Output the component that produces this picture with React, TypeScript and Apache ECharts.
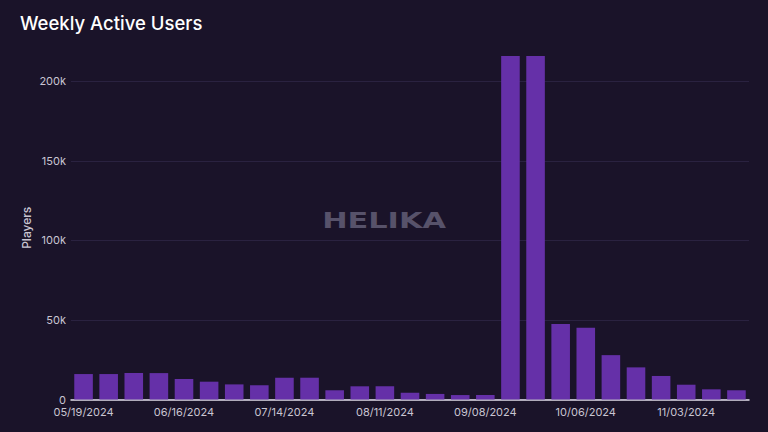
import React, { useEffect, useRef } from "react";
import * as echarts from "echarts";

const weeks = [
  "05/19/2024", "05/26/2024", "06/02/2024", "06/09/2024", "06/16/2024", "06/23/2024", "06/30/2024",
  "07/07/2024", "07/14/2024", "07/21/2024", "07/28/2024", "08/04/2024", "08/11/2024", "08/18/2024",
  "08/25/2024", "09/01/2024", "09/08/2024", "09/15/2024", "09/22/2024", "09/29/2024", "10/06/2024",
  "10/13/2024", "10/20/2024", "10/27/2024", "11/03/2024", "11/10/2024", "11/17/2024",
];

const players = [
  16000, 16000, 16600, 16600, 12900, 11200, 9500, 8900, 13700, 13700, 5800, 8300, 8300, 4200,
  3500, 2800, 2800, 216000, 216000, 47400, 45100, 27900, 20200, 14800, 9300, 6400, 5800,
];

const yTicks = [0, 50000, 100000, 150000, 200000];

export default function App() {
  const ref = useRef<HTMLDivElement>(null);
  useEffect(() => {
    if (!ref.current) return;
    const chart = echarts.init(ref.current, null, { renderer: "svg" });
    chart.setOption({
      animation: false,
      backgroundColor: "#1a1329",
      title: {
        text: "Weekly Active Users",
        left: 15,
        top: 8,
        textStyle: { color: "#ffffff", fontSize: 18.5, fontWeight: 500, fontFamily: "Inter" },
      },
      graphic: [
        {
          type: "text",
          x: 384,
          y: 220,
          scaleX: 1.38,
          style: {
            text: "HELIKA",
            fill: "#57526a",
            fontSize: 22,
            fontWeight: 900,
            fontFamily: "DejaVu Sans",
            align: "center",
            verticalAlign: "middle",
          },
          z: 0,
        },
      ],
      grid: { left: 71, right: 19, top: 56, bottom: 32.5, containLabel: false },
      xAxis: {
        type: "category",
        data: weeks,
        axisLine: { lineStyle: { color: "#e4e0ec", width: 1.5 } },
        axisTick: { show: false },
        axisLabel: { interval: 3, color: "#c9c5d2", fontSize: 11, fontFamily: "Inter", margin: 7 },
      },
      yAxis: {
        type: "value",
        min: yTicks[0],
        max: 216000,
        interval: yTicks[1] - yTicks[0],
        name: "Players",
        nameLocation: "middle",
        nameGap: 39,
        nameMoveOverlap: false,
        nameTextStyle: { color: "#c9c5d2", fontSize: 12, fontFamily: "Inter", fontWeight: 500 },
        axisLine: { show: false },
        axisTick: { show: false },
        axisLabel: {
          color: "#c9c5d2",
          fontSize: 11,
          fontFamily: "Inter",
          margin: 5,
          showMaxLabel: false,
          formatter: (v: number) => (v === 0 ? "0" : v / 1000 + "k"),
        },
        splitLine: { lineStyle: { color: "#2a2240", width: 1 }, showMaxLine: false },
      },
      series: [
        {
          type: "bar",
          data: players,
          barCategoryGap: "26%",
          itemStyle: { color: "#6530a8" },
          z: 2,
        },
      ],
    });
    return () => chart.dispose();
  }, []);
  return <div ref={ref} style={{ width: 768, height: 432, position: "fixed", left: 0, top: 0 }} />;
}
